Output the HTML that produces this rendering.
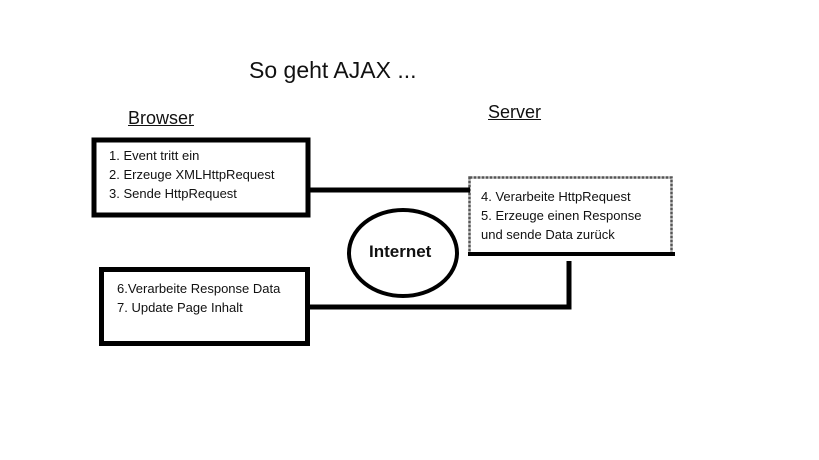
<!DOCTYPE html>
<html><head><style>
body{margin:0;width:819px;height:460px;background:#fff;overflow:hidden;position:relative;font-family:"Liberation Sans",sans-serif;color:#111}
.a{position:absolute}
.t{font-size:13px;line-height:19px}
</style></head><body>
<svg class="a" style="left:0;top:0" width="819" height="460">
<rect x="94" y="140" width="214" height="75" fill="none" stroke="#000" stroke-width="5"/>
<rect x="101.5" y="269.5" width="206" height="74" fill="none" stroke="#000" stroke-width="5"/>
<rect x="469.5" y="177.5" width="202" height="77" fill="none" stroke="#555" stroke-width="2.5" stroke-dasharray="3,1"/>
<line x1="468" y1="254" x2="675" y2="254" stroke="#000" stroke-width="4"/>
<line x1="310" y1="190" x2="470" y2="190" stroke="#000" stroke-width="5"/>
<polyline points="310,307 569,307 569,261" fill="none" stroke="#000" stroke-width="5"/>
<ellipse cx="403" cy="253" rx="54" ry="43" fill="none" stroke="#000" stroke-width="4"/>
</svg>
<div class="a" style="left:249px;top:57px;font-size:23px">So geht AJAX ...</div>
<div class="a" style="left:128px;top:108px;font-size:18px;text-decoration:underline">Browser</div>
<div class="a" style="left:488px;top:102px;font-size:18px;text-decoration:underline">Server</div>
<div class="a t" style="left:109px;top:146px">1. Event tritt ein<br>2. Erzeuge XMLHttpRequest<br>3. Sende HttpRequest</div>
<div class="a t" style="left:117px;top:279px">6.Verarbeite Response Data<br>7. Update Page Inhalt</div>
<div class="a t" style="left:481px;top:187px">4. Verarbeite HttpRequest<br>5. Erzeuge einen Response<br>und sende Data zurück</div>
<div class="a" style="left:369px;top:242px;font-size:17px;font-weight:bold">Internet</div>
</body></html>
